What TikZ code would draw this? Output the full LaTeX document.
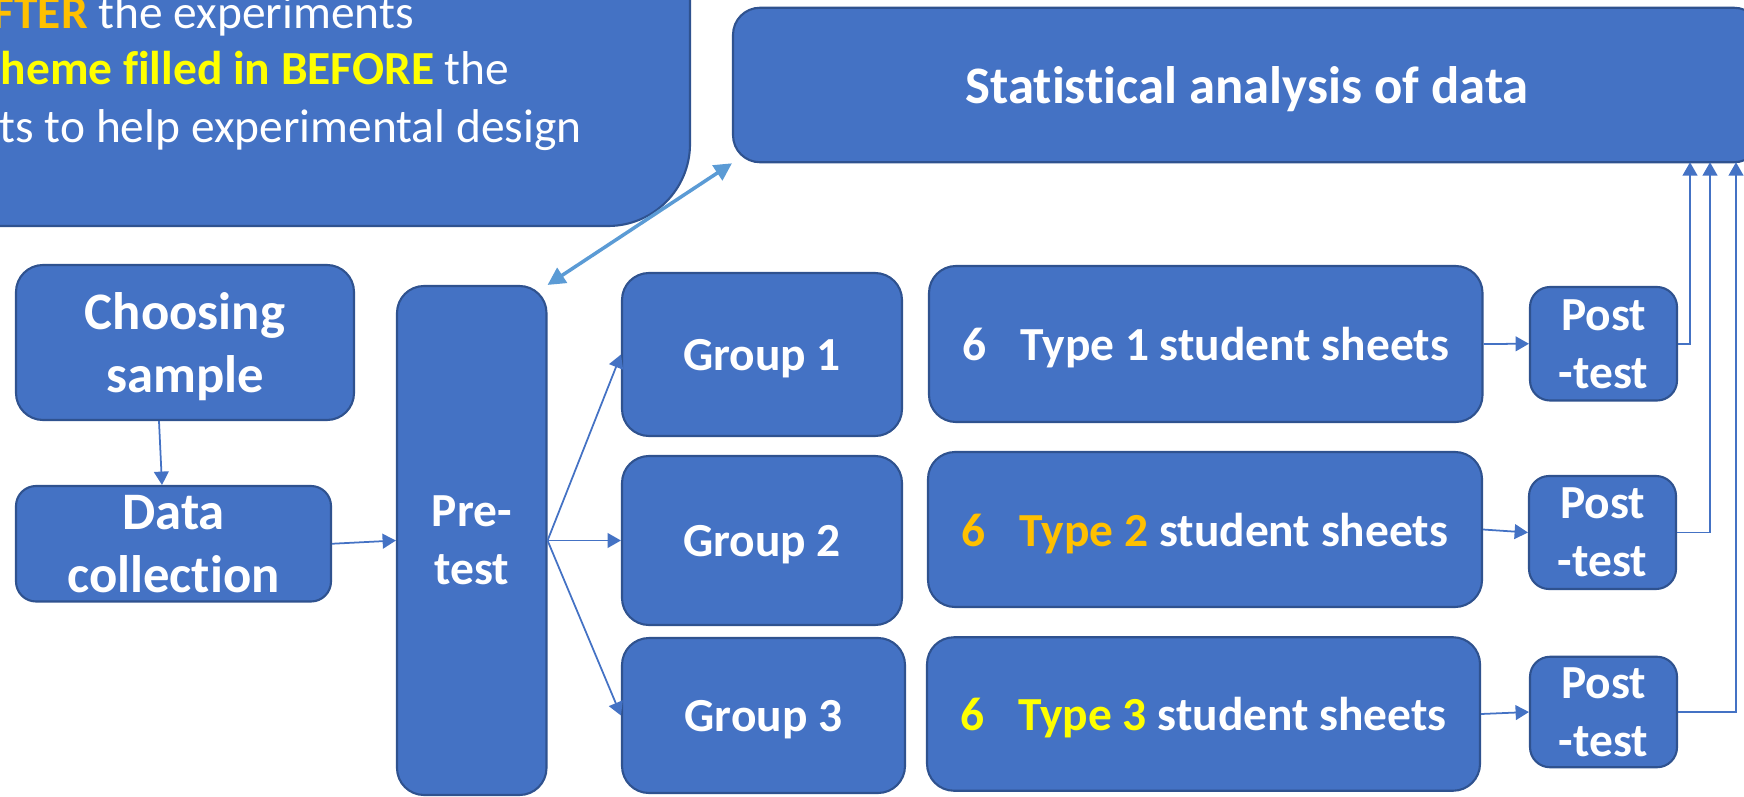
\documentclass[tikz,border=0pt]{standalone}
\usepackage{fontspec}
\setmainfont{Carlito}[Ligatures=NoCommon]
\usepackage{xcolor}
\usetikzlibrary{arrows.meta}
\definecolor{boxblue}{HTML}{4472C4}
\definecolor{boxline}{HTML}{2F528F}
\definecolor{linkblue}{HTML}{5B9BD5}
\definecolor{amber}{HTML}{FFC000}
\definecolor{lemon}{HTML}{FFFF00}
\tikzset{
linkMe/.style={draw=boxblue, line width=0.5pt, -{Triangle[length=3.8pt,width=4.2pt]}}}

\begin{document}
\begin{tikzpicture}
		\tikzset{box/.style = {shape=rectangle, draw=boxline, fill=boxblue, line width=0.6pt, rounded corners=0.27cm, text=white, inner sep=0pt, text depth=0pt, align=center, font=\bfseries\fontsize{13.5}{16.5}\selectfont}}
		\tikzset{bigbox/.style = {box, font=\bfseries\fontsize{15}{17.9}\selectfont}}
		\tikzset{note/.style = {anchor=base west, inner sep=0pt, text=white, font=\fontsize{13.5}{16.2}\selectfont}}
		\tikzset{edge/.style = {linkMe}}
		\tikzset{both/.style = {draw=linkblue, line width=1pt, {Triangle[length=5pt,width=5pt]}-{Triangle[length=5pt,width=5pt]}}}

		\clip (0,0) rectangle (17.44,7.96);
		\useasboundingbox (0,0) rectangle (17.44,7.96);

		\draw[draw=boxline, fill=boxblue, line width=0.6pt, rounded corners=0.82cm] (-1,5.70) rectangle (6.90,9.2);
		\node[note] (note1) at (-0.08,7.68) {\textcolor{amber}{\bfseries FTER} the experiments};
		\node[note] (note2) at (0.0,7.11) {\textcolor{lemon}{\bfseries heme filled in BEFORE} the};
		\node[note] (note3) at (-0.01,6.53) {ts to help experimental design};

		\node[bigbox, minimum width=10.28cm, minimum height=1.545cm] (stats) at (12.47,7.11) {Statistical analysis of data};

		\node[bigbox, minimum width=3.38cm, minimum height=1.55cm] (choose) at (1.85,4.535) {Choosing\\sample};
		\node[bigbox, minimum width=3.15cm, minimum height=1.155cm, rounded corners=0.2cm] (collect) at (1.735,2.5225) {Data\\collection};
		\node[box, minimum width=1.495cm, minimum height=5.09cm] (pre) at (4.7175,2.555) {Pre-\\test};

		\node[box, minimum width=2.80cm, minimum height=1.63cm] (g1) at (7.62,4.415) {Group 1};
		\node[box, minimum width=2.80cm, minimum height=1.69cm] (g2) at (7.62,2.555) {Group 2};
		\node[box, minimum width=2.83cm, minimum height=1.55cm] (g3) at (7.635,0.805) {Group 3};

		\node[box, minimum width=5.535cm, minimum height=1.56cm] (s1) at (12.0575,4.52) {6\hspace{3.4mm}Type 1 student sheets};
		\node[box, minimum width=5.54cm, minimum height=1.55cm] (s2) at (12.05,2.665) {\textcolor{amber}{6\hspace{3.4mm}Type 2} student sheets};
		\node[box, minimum width=5.53cm, minimum height=1.535cm] (s3) at (12.035,0.82) {\textcolor{lemon}{6\hspace{3.4mm}Type 3} student sheets};

		\node[box, minimum width=1.47cm, minimum height=1.135cm, rounded corners=0.2cm] (p1) at (16.035,4.5225) {Post\\-test};
		\node[box, minimum width=1.47cm, minimum height=1.13cm, rounded corners=0.2cm] (p2) at (16.025,2.635) {Post\\-test};
		\node[box, minimum width=1.47cm, minimum height=1.105cm, rounded corners=0.2cm] (p3) at (16.035,0.84) {Post\\-test};

		\coordinate (in1) at (16.90,6.3375);
		\coordinate (in2) at (17.10,6.3375);
		\coordinate (in3) at (17.36,6.3375);

		\draw[edge] ([xshift=-2.6mm]choose.south) to ([xshift=-1.15mm]collect.north);
		\draw[edge] (collect.east) to (pre.west);
		\draw[edge] (pre.east) to (g1.west);
		\draw[edge] (pre.east) to (g2.west);
		\draw[edge] (pre.east) to (g3.west);
		\draw[edge] (s1.east) to (p1.west);
		\draw[edge] (s2.east) to (p2.west);
		\draw[edge] (s3.east) to (p3.west);
		\draw[edge] (p1.east) -| (in1);
		\draw[edge] (p2.east) -| (in2);
		\draw[edge] (p3.east) -| (in3);
		\draw[both] (pre.north east) to (stats.south west);
	\end{tikzpicture}
\end{document}
